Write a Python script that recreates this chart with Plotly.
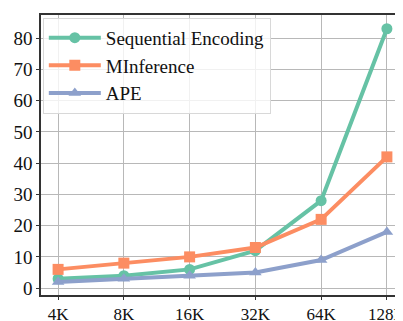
import plotly.graph_objects as go

categories = ["4K", "8K", "16K", "32K", "64K", "128K"]
seq_enc = [3, 4, 6, 12, 28, 83]
minference = [6, 8, 10, 13, 22, 42]
ape = [2, 3, 4, 5, 9, 18]

series = [
    ("Sequential Encoding", seq_enc, "#66c2a5", "circle"),
    ("MInference", minference, "#fc8d62", "square"),
    ("APE", ape, "#8da0cb", "triangle-up"),
]

fig = go.Figure()
for name, vals, color, sym in series:
    fig.add_trace(go.Scatter(
        x=list(range(len(categories))), y=vals, name=name, mode="lines+markers",
        line=dict(color=color, width=4),
        marker=dict(color=color, symbol=sym, size=11),
    ))

fam = "Liberation Serif"
fig.update_layout(
    width=403, height=321,
    margin=dict(l=33, r=5, t=5, b=27),
    paper_bgcolor="white", plot_bgcolor="white",
    font=dict(family=fam, size=19, color="#111111"),
    showlegend=True,
    legend=dict(x=0.005, y=0.99, xanchor="left", yanchor="top",
                bgcolor="rgba(255,255,255,0.8)", bordercolor="#d8d8d8", borderwidth=1,
                font=dict(family=fam, size=19, color="#111111"),
                itemwidth=52, tracegroupgap=0),
    xaxis=dict(tickmode="array", tickvals=list(range(len(categories))), ticktext=categories,
               range=[-0.26, 5.26], showgrid=True, gridcolor="#b8b8b8", gridwidth=1,
               showline=True, linecolor="#333", linewidth=1.5, mirror=True,
               ticks="outside", ticklen=3, tickcolor="#333", zeroline=False,
               tickfont=dict(family=fam, size=17, color="#111111")),
    yaxis=dict(tickvals=list(range(0, 81, 10)), range=[-2.2, 87.4],
               showgrid=True, gridcolor="#b8b8b8", gridwidth=1,
               showline=True, linecolor="#333", linewidth=1.5, mirror=True,
               ticks="outside", ticklen=3, tickcolor="#333", zeroline=False,
               tickfont=dict(family=fam, size=19, color="#111111")),
)
fig.write_html("out.html")
